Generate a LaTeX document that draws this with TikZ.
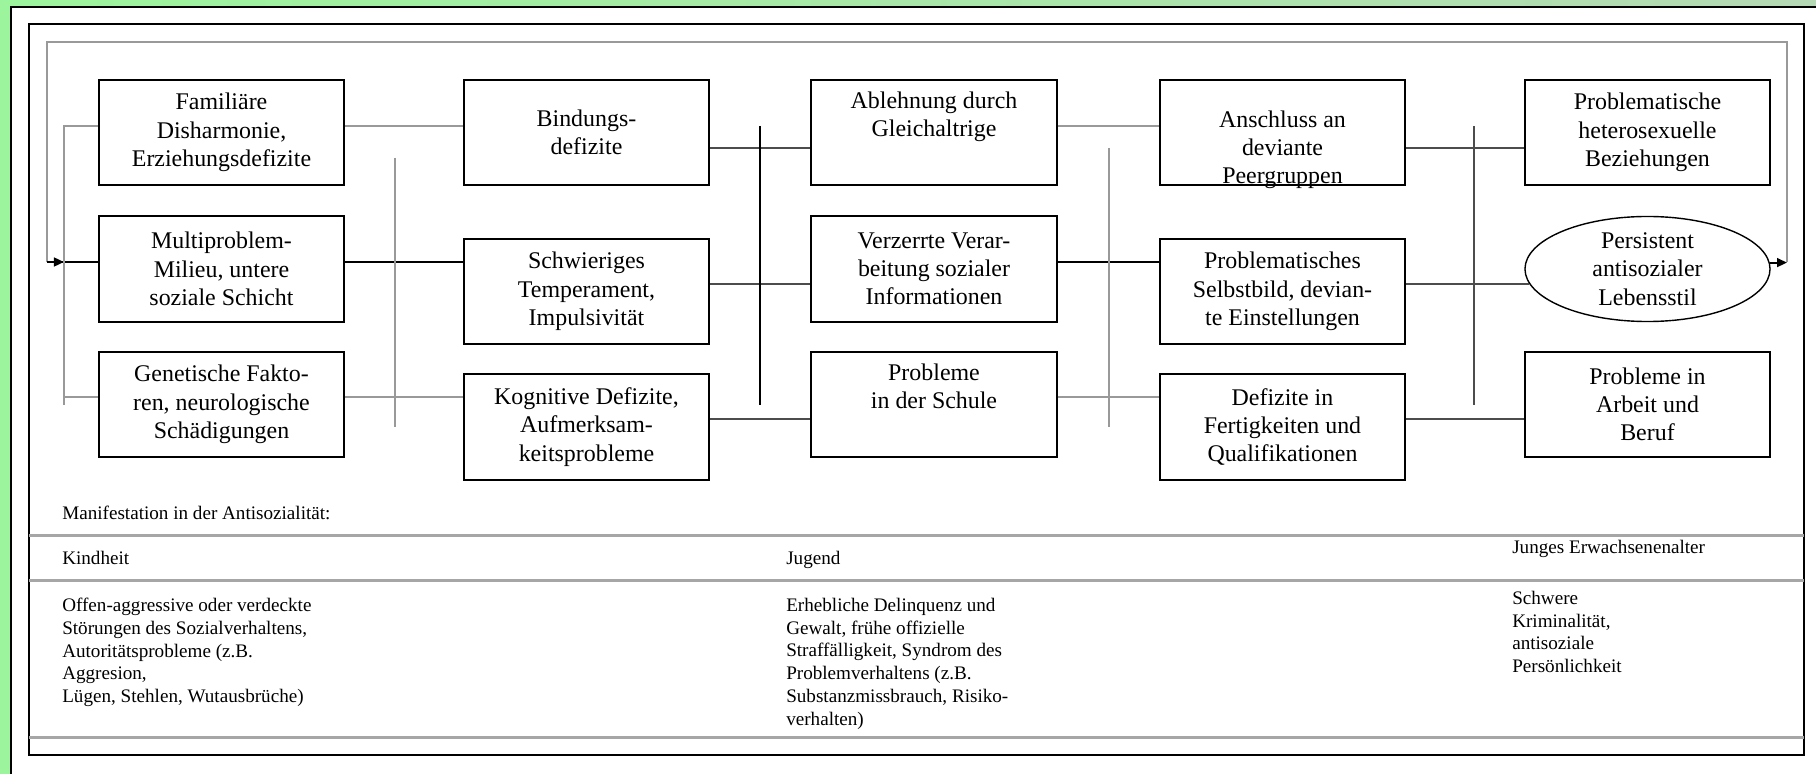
\documentclass[tikz,border=0pt]{standalone}
\usepackage{fontspec}
\setmainfont{Liberation Serif}
\usetikzlibrary{shapes.geometric,arrows.meta}
\definecolor{bggreen}{HTML}{9CF59C}
\definecolor{bgpale}{HTML}{B4D9B4}

\begin{document}
\begin{tikzpicture}[x=0.025cm,y=-0.025cm,
    box/.style={draw,line width=0.05cm,minimum width=6.125cm,minimum height=2.625cm,
      inner sep=0pt,align=center,font=\fontsize{17}{20.1}\selectfont},
    lgray/.style={draw=black!40,line width=0.05cm},
    dgray/.style={draw=black!70,line width=0.05cm},
    dark/.style={draw=black,line width=0.05cm},
    rule/.style={draw=black!35,line width=0.075cm},
    small/.style={inner sep=0pt,align=left,font=\fontsize{13.6}{16.15}\selectfont},
    arr/.style={-{Triangle[length=0.25cm,width=0.22cm]}}]
    \useasboundingbox (0,0) rectangle (1816,774);
    \shade[left color=bggreen,right color=bgpale] (0,0) rectangle (1816,774);
    \fill[white] (11,7) rectangle (1816,774);
    \draw[line width=0.06cm] (11,774) -- (11,7) -- (1816,7);
    \draw[dark] (29,24) rectangle (1804,755);

    \node[box] (fam) at (221.5,132.5) {Familiäre\\Disharmonie,\\Erziehungsdefizite};
    \node[box] (mult) at (221.5,269) {Multiproblem-\\Milieu, untere\\soziale Schicht};
    \node[box] (gen) at (221.5,404.5) {Genetische Fakto-\\ren, neurologische\\Schädigungen};

    \node[box] (bind) at (586.5,132.5) {Bindungs-\\defizite};
    \node[box] (temp) at (586.5,291.5) {Schwieriges\\Temperament,\\Impulsivität};
    \node[box] (kogn) at (586.5,427) {Kognitive Defizite,\\Aufmerksam-\\keitsprobleme};

    \node[box] (abl) at (934,132.5) {Ablehnung durch\\Gleichaltrige\\\strut};
    \node[box] (verz) at (934,269) {Verzerrte Verar-\\beitung sozialer\\Informationen};
    \node[box] (schule) at (934,404.5) {Probleme\\in der Schule\\\strut};

    \node[box] (ansch) at (1282.5,132.5) {};
    \node[align=center,inner sep=0pt,font=\fontsize{17}{20.1}\selectfont] (anschtxt)
      at (1282.5,150) {Anschluss an\\deviante\\Peergruppen};
    \node[box] (selbst) at (1282.5,291.5) {Problematisches\\Selbstbild, devian-\\te Einstellungen};
    \node[box] (defz) at (1282.5,427) {Defizite in\\Fertigkeiten und\\Qualifikationen};

    \node[box] (hetero) at (1647.5,132.5) {Problematische\\heterosexuelle\\Beziehungen};
    \node[box,ellipse,line width=0.035cm] (lebens) at (1647.5,269) {Persistent\\antisozialer\\Lebensstil};
    \node[box] (beruf) at (1647.5,404.5) {Probleme in\\Arbeit und\\Beruf};

    \coordinate (fbl) at (47,262);
    \coordinate (fbr) at (1787,262);
    \draw[lgray] (fbl) |- (1787,42) -- (fbr);
    \draw[dark] (fbl) -- (mult.west |- fbl);
    \draw[dark,arr] (fbl) -- (64,262);
    \draw[dark,arr] (lebens.3) -- (lebens.3 -| fbr);

    \draw[lgray] (fam.west |- 0,126) -- (64,126) -- (64,405);
    \draw[lgray] (gen.west |- 0,397) -- (64,397);

    \draw[lgray] (fam.east |- 0,126) -- (bind.west |- 0,126);
    \draw[dark] (mult.east |- fbl) -- (temp.west |- fbl);
    \draw[lgray] (gen.east |- 0,397) -- (kogn.west |- 0,397);
    \draw[lgray] (395,158) -- (395,427);

    \draw[dgray] (bind.east |- 0,148) -- (abl.west |- 0,148);
    \draw[dgray] (temp.east |- 0,284) -- (verz.west |- 0,284);
    \draw[dgray] (kogn.east |- 0,419) -- (schule.west |- 0,419);
    \draw[dark] (760,126) -- (760,405);

    \draw[lgray] (abl.east |- 0,126) -- (ansch.west |- 0,126);
    \draw[dark] (verz.east |- fbl) -- (selbst.west |- fbl);
    \draw[lgray] (schule.east |- 0,397) -- (defz.west |- 0,397);
    \draw[lgray] (1109,148) -- (1109,427);

    \draw[dgray] (ansch.east |- 0,148) -- (hetero.west |- 0,148);
    \draw[dgray] (selbst.east |- lebens.187) -- (lebens.187);
    \draw[dgray] (defz.east |- 0,419) -- (beruf.west |- 0,419);
    \draw[dgray] (1474,126) -- (1474,405);

    \draw[rule] (29,535) -- (1804,535);
    \draw[rule] (29,580) -- (1804,580);
    \draw[rule] (29,737) -- (1804,737);

    \node[small,anchor=base west] (manif) at (62,519) {Manifestation in der Antisozialität:};
    \node[small,anchor=base west] (kind) at (62,564) {Kindheit};
    \node[small,anchor=base west] (jug) at (786,564) {Jugend};
    \node[small,anchor=base west] (erw) at (1512,553) {Junges Erwachsenenalter};
    \node[small,anchor=north west] (kindtxt) at (62,598) {Offen-aggressive oder verdeckte\\
      Störungen des Sozialverhaltens,\\Autoritätsprobleme (z.B.\\Aggresion,\\
      Lügen, Stehlen, Wutausbrüche)};
    \node[small,anchor=north west] (jugtxt) at (786,598) {Erhebliche Delinquenz und\\
      Gewalt, frühe offizielle\\Straffälligkeit, Syndrom des\\Problemverhaltens (z.B.\\
      Substanzmissbrauch, Risiko-\\verhalten)};
    \node[small,anchor=north west] (erwtxt) at (1512,591) {Schwere\\Kriminalität,\\
      antisoziale\\Persönlichkeit};
  \end{tikzpicture}
\end{document}
